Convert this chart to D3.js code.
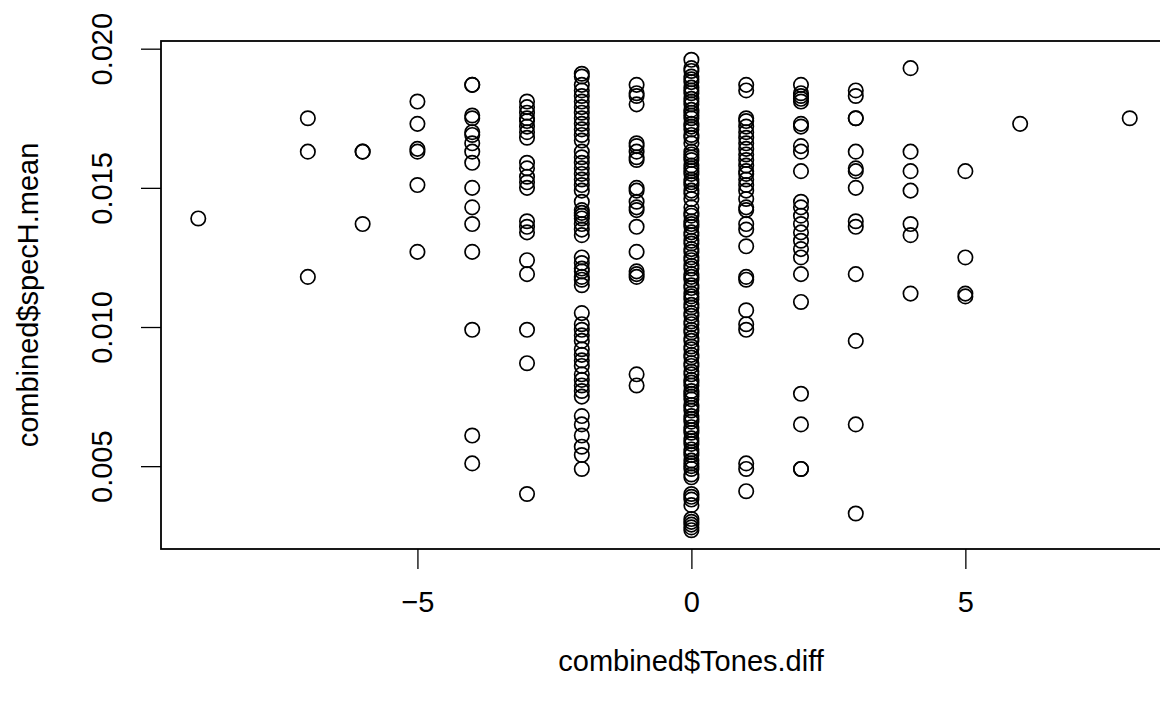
<!DOCTYPE html>
<html>
<head>
<meta charset="utf-8">
<script src="https://cdn.jsdelivr.net/npm/d3@7"></script>
<style>
body { margin: 0; background: #fff; }
text { font-family: "Liberation Sans", Arial, Helvetica, sans-serif; }
</style>
</head>
<body>
<svg id="chart"></svg>
<script>
// combined$Tones.diff levels and the combined$specH.mean values read at each level
const diffLevels = [-9, -7, -6, -5, -4, -3, -2, -1, 0, 1, 2, 3, 4, 5, 6, 8];

const specM9 = [0.0139];
const specM7 = [0.0175, 0.0163, 0.0118];
const specM6 = [0.0163, 0.0163, 0.0137];
const specM5 = [0.0181, 0.0173, 0.0164, 0.0163, 0.0151, 0.0127];
const specM4 = [0.0187, 0.0187, 0.0176, 0.0175, 0.0170, 0.0169, 0.0166, 0.0163, 0.0159, 0.0150,
  0.0143, 0.0137, 0.0127, 0.0099, 0.0061, 0.0051];
const specM3 = [0.0181, 0.0179, 0.0177, 0.0175, 0.0174, 0.0172, 0.0170, 0.0168, 0.0159, 0.0157,
  0.0154, 0.0152, 0.0150, 0.0138, 0.0136, 0.0134, 0.0124, 0.0119, 0.0099, 0.0087, 0.0040];
const specM2 = [0.0191, 0.0190, 0.0187, 0.0185, 0.0183, 0.0181, 0.0179, 0.0177, 0.0175, 0.0173,
  0.0171, 0.0169, 0.0167, 0.0163, 0.0161, 0.0159, 0.0157, 0.0155, 0.0153, 0.0151, 0.0149,
  0.0145, 0.0142, 0.0141, 0.0140, 0.0139, 0.0137, 0.0135, 0.0133, 0.0125, 0.0123, 0.0121,
  0.0120, 0.0118, 0.0117, 0.0115, 0.0105, 0.0101, 0.0099, 0.0097, 0.0095, 0.0092, 0.0090,
  0.0088, 0.0086, 0.0083, 0.0081, 0.0079, 0.0077, 0.0075, 0.0068, 0.0065, 0.0061, 0.0057,
  0.0054, 0.0049];
const specM1 = [0.0187, 0.0184, 0.0183, 0.0180, 0.0166, 0.0165, 0.0163, 0.0161, 0.0160, 0.0150,
  0.0149, 0.0145, 0.0143, 0.0142, 0.0136, 0.0127, 0.0120, 0.0119, 0.0118, 0.0083, 0.0079];
const spec0 = [0.0196, 0.0193, 0.0192, 0.0190, 0.0189, 0.0188, 0.0186, 0.0185, 0.0184, 0.0182,
  0.0181, 0.0180, 0.0178, 0.0177, 0.0176, 0.0175, 0.0173, 0.0172, 0.0171, 0.0169, 0.0168,
  0.0166, 0.0163, 0.0162, 0.0161, 0.0160, 0.0158, 0.0157, 0.0156, 0.0155, 0.0153, 0.0152,
  0.0151, 0.0149, 0.0148, 0.0146, 0.0143, 0.0141, 0.0140, 0.0138, 0.0137, 0.0136, 0.0134,
  0.0133, 0.0131, 0.0130, 0.0128, 0.0127, 0.0125, 0.0124, 0.0122, 0.0121, 0.0119, 0.0118,
  0.0117, 0.0115, 0.0114, 0.0112, 0.0111, 0.0110, 0.0108, 0.0107, 0.0105, 0.0104, 0.0102,
  0.0101, 0.0099, 0.0098, 0.0096, 0.0095, 0.0093, 0.0092, 0.0090, 0.0089, 0.0087, 0.0086,
  0.0084, 0.0083, 0.0081, 0.0080, 0.0079, 0.0077, 0.0076, 0.0075, 0.0074, 0.0072, 0.0071,
  0.0070, 0.0068, 0.0067, 0.0066, 0.0064, 0.0063, 0.0062, 0.0060, 0.0059, 0.0058, 0.0056,
  0.0055, 0.0054, 0.0052, 0.0051, 0.0050, 0.0049, 0.0047, 0.0046, 0.0040, 0.0039, 0.0038,
  0.0036, 0.0031, 0.0030, 0.0029, 0.0028, 0.0027];
const specP1 = [0.0187, 0.0185, 0.0175, 0.0174, 0.0172, 0.0170, 0.0168, 0.0166, 0.0164, 0.0162,
  0.0160, 0.0158, 0.0156, 0.0155, 0.0153, 0.0151, 0.0149, 0.0146, 0.0143, 0.0142, 0.0137,
  0.0135, 0.0129, 0.0118, 0.0117, 0.0106, 0.0101, 0.0099, 0.0051, 0.0049, 0.0041];
const specP2 = [0.0187, 0.0184, 0.0183, 0.0182, 0.0181, 0.0173, 0.0172, 0.0165, 0.0163, 0.0156,
  0.0145, 0.0143, 0.0140, 0.0137, 0.0134, 0.0131, 0.0128, 0.0125, 0.0119, 0.0109, 0.0076,
  0.0065, 0.0049, 0.0049];
const specP3 = [0.0185, 0.0183, 0.0175, 0.0175, 0.0163, 0.0157, 0.0156, 0.0150, 0.0138, 0.0136,
  0.0119, 0.0095, 0.0065, 0.0033];
const specP4 = [0.0193, 0.0163, 0.0156, 0.0149, 0.0137, 0.0133, 0.0112];
const specP5 = [0.0156, 0.0125, 0.0112, 0.0111];
const specP6 = [0.0173];
const specP8 = [0.0175];

const specByLevel = [specM9, specM7, specM6, specM5, specM4, specM3, specM2, specM1,
  spec0, specP1, specP2, specP3, specP4, specP5, specP6, specP8];

const xTicks = [-5, 0, 5];
const yTicks = [0.005, 0.010, 0.015, 0.020];
const xTitle = "combined$Tones.diff";
const yTitle = "combined$specH.mean";

// flatten into points
let points = [];
diffLevels.forEach(function(lvl, i) {
  specByLevel[i].forEach(function(v) {
    points.push({ x: lvl, y: v });
  });
});

const width = 1160;
const height = 702;
const svg = d3.select('#chart')
  .attr('width', width)
  .attr('height', height);

// R style: 4% padding on each side of the data range
function padded(ext) {
  const d = (ext[1] - ext[0]) * 0.04;
  return [ext[0] - d, ext[1] + d];
}

// plot region (right edge falls outside the canvas like the original)
const plotLeft = 161, plotRight = 1167, plotTop = 41, plotBottom = 549;

const xScale = d3.scaleLinear()
  .domain(padded(d3.extent(points, d => d.x)))
  .range([plotLeft, plotRight]);

const yScale = d3.scaleLinear()
  .domain(padded(d3.extent(points, d => d.y)))
  .range([plotBottom, plotTop]);

const fontSize = 29;

// x axis
const xAxis = svg.append('g')
  .attr('transform', 'translate(0,' + plotBottom + ')')
  .call(d3.axisBottom(xScale).tickValues(xTicks).tickSize(20).tickPadding(22)
    .tickFormat(d3.format('d')));
xAxis.select('.domain').remove();
xAxis.selectAll('.tick line').attr('stroke', '#000').attr('stroke-width', 1.3);
xAxis.selectAll('.tick text')
  .attr('fill', '#000')
  .attr('font-size', fontSize)
  .attr('font-family', '"Liberation Sans", Arial, sans-serif');

// y axis
const yAxis = svg.append('g')
  .attr('transform', 'translate(' + plotLeft + ',0)')
  .call(d3.axisLeft(yScale).tickValues(yTicks).tickSize(20)
    .tickFormat(d3.format('.3f')));
yAxis.select('.domain').remove();
yAxis.selectAll('.tick line').attr('stroke', '#000').attr('stroke-width', 1.3);
yAxis.selectAll('.tick text')
  .attr('fill', '#000')
  .attr('font-size', fontSize)
  .attr('font-family', '"Liberation Sans", Arial, sans-serif')
  .attr('text-anchor', 'middle')
  .attr('x', null)
  .attr('dy', null)
  .attr('transform', 'translate(-49,0) rotate(-90)');

// box around plot
svg.append('rect')
  .attr('x', plotLeft)
  .attr('y', plotTop)
  .attr('width', plotRight - plotLeft)
  .attr('height', plotBottom - plotTop)
  .attr('fill', 'none')
  .attr('stroke', '#000')
  .attr('stroke-width', 1.8);

// points (open circles, pch = 1)
svg.append('g')
  .selectAll('circle')
  .data(points)
  .enter()
  .append('circle')
  .attr('cx', d => xScale(d.x))
  .attr('cy', d => yScale(d.y))
  .attr('r', 7.2)
  .attr('fill', 'none')
  .attr('stroke', '#000')
  .attr('stroke-width', 1.7);

// axis titles
svg.append('text')
  .attr('x', 691)
  .attr('y', 671)
  .attr('text-anchor', 'middle')
  .attr('font-size', fontSize)
  .attr('fill', '#000')
  .text(xTitle);

svg.append('text')
  .attr('transform', 'translate(38,' + ((plotTop + plotBottom) / 2) + ') rotate(-90)')
  .attr('text-anchor', 'middle')
  .attr('font-size', fontSize)
  .attr('fill', '#000')
  .text(yTitle);
</script>
</body>
</html>
